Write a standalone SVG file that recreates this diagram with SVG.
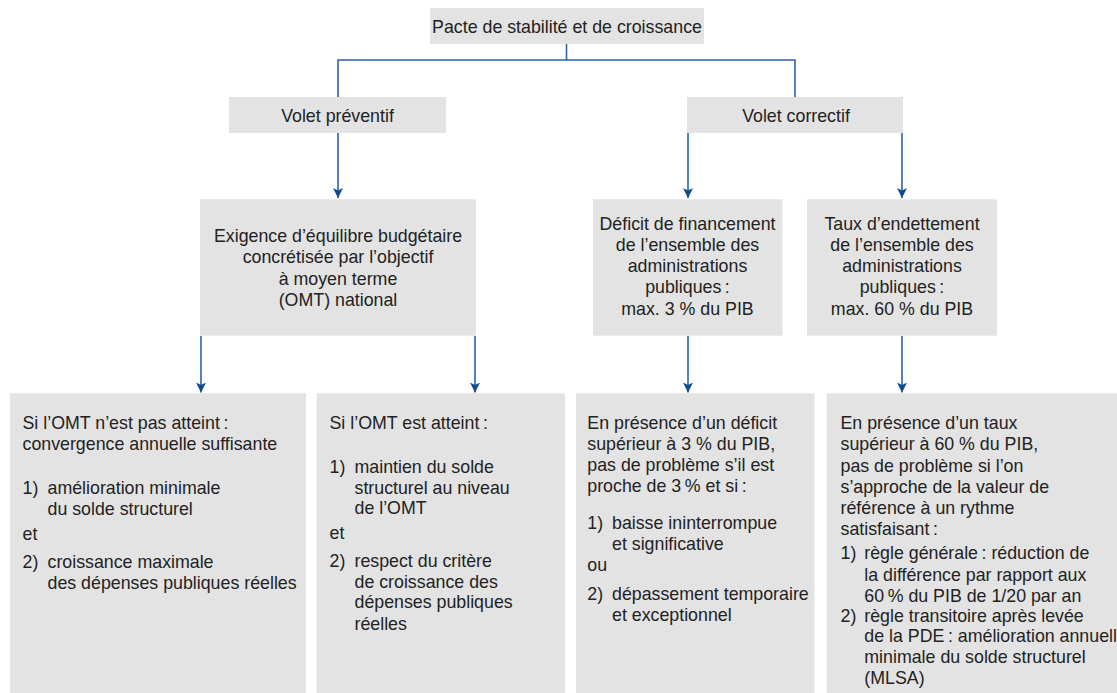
<svg xmlns="http://www.w3.org/2000/svg" width="1117" height="693" viewBox="0 0 1117 693">
<style>
.box{fill:#e3e3e3}
.t{font-family:"Liberation Sans",Arial,sans-serif;font-size:17.8px;fill:#222}
.c{text-anchor:middle}
.conn{stroke:#2c63a5;stroke-width:1.6;fill:none}
.arr{stroke:#2c63a5;stroke-width:1.6;fill:none;marker-end:url(#ah)}
</style>
<defs>
<marker id="ah" viewBox="0 0 10 10" refX="10" refY="5" markerWidth="10" markerHeight="10" markerUnits="userSpaceOnUse" orient="auto">
<path d="M0,0 L10,5 L0,10 L2.5,5 z" fill="#0d4a8f"/>
</marker>
</defs>
<rect width="1117" height="693" fill="#ffffff"/>

<g id="connectors">
<path class="conn" d="M566.5,44 V60 M338,97 V60 H795 V97"/>
<line class="arr" x1="338" y1="133" x2="338" y2="198"/>
<line class="arr" x1="688" y1="133" x2="688" y2="198"/>
<line class="arr" x1="902" y1="133" x2="902" y2="198"/>
<line class="arr" x1="201" y1="336" x2="201" y2="392.5"/>
<line class="arr" x1="475" y1="336" x2="475" y2="392.5"/>
<line class="arr" x1="688" y1="336" x2="688" y2="392.5"/>
<line class="arr" x1="902" y1="336" x2="902" y2="392.5"/>
</g>

<g id="pacte">
<rect class="box" x="430" y="8" width="274" height="36"/>
<text class="t c" x="567" y="32.5">Pacte de stabilité et de croissance</text>
</g>

<g id="volet-preventif">
<rect class="box" x="229" y="97" width="217" height="36"/>
<text class="t c" x="337.5" y="121.5">Volet préventif</text>
</g>

<g id="volet-correctif">
<rect class="box" x="687" y="97" width="216" height="36"/>
<text class="t c" x="796" y="121.5">Volet correctif</text>
</g>

<g id="exigence">
<rect class="box" x="200" y="199.3" width="276" height="136.4"/>
<text class="t c" x="338" y="242">Exigence d’équilibre budgétaire</text>
<text class="t c" x="338" y="263">concrétisée par l’objectif</text>
<text class="t c" x="338" y="284.5">à moyen terme</text>
<text class="t c" x="338" y="305.5">(OMT) national</text>
</g>

<g id="deficit">
<rect class="box" x="593" y="199.3" width="189.5" height="136.4"/>
<text class="t c" x="687.5" y="230">Déficit de financement</text>
<text class="t c" x="687.5" y="251.3">de l’ensemble des</text>
<text class="t c" x="687.5" y="272.3">administrations</text>
<text class="t c" x="687.5" y="293.3">publiques&#8201;:</text>
<text class="t c" x="687.5" y="314.7">max. 3 % du PIB</text>
</g>

<g id="taux">
<rect class="box" x="807" y="199.3" width="190" height="136.4"/>
<text class="t c" x="902" y="230">Taux d’endettement</text>
<text class="t c" x="902" y="251.3">de l’ensemble des</text>
<text class="t c" x="902" y="272.3">administrations</text>
<text class="t c" x="902" y="293.3">publiques&#8201;:</text>
<text class="t c" x="902" y="314.7">max. 60 % du PIB</text>
</g>

<g id="omt-non-atteint">
<rect class="box" x="10" y="393.3" width="296" height="300"/>
<text class="t" x="22.5" y="429.3">Si l’OMT n’est pas atteint&#8201;:</text>
<text class="t" x="22.5" y="450">convergence annuelle suffisante</text>
<text class="t" x="22.5" y="494.3">1)</text>
<text class="t" x="47.5" y="494.3">amélioration minimale</text>
<text class="t" x="47.5" y="515">du solde structurel</text>
<text class="t" x="22.5" y="540">et</text>
<text class="t" x="22.5" y="568.3">2)</text>
<text class="t" x="47.5" y="568.3">croissance maximale</text>
<text class="t" x="47.5" y="589.3">des dépenses publiques réelles</text>
</g>

<g id="omt-atteint">
<rect class="box" x="316.5" y="393.3" width="248.5" height="300"/>
<text class="t" x="329.5" y="429.3">Si l’OMT est atteint&#8201;:</text>
<text class="t" x="329.5" y="472.7">1)</text>
<text class="t" x="354.5" y="472.7">maintien du solde</text>
<text class="t" x="354.5" y="493.5">structurel au niveau</text>
<text class="t" x="354.5" y="514.3">de l’OMT</text>
<text class="t" x="329.5" y="539.3">et</text>
<text class="t" x="329.5" y="566.7">2)</text>
<text class="t" x="354.5" y="566.7">respect du critère</text>
<text class="t" x="354.5" y="587.7">de croissance des</text>
<text class="t" x="354.5" y="608.3">dépenses publiques</text>
<text class="t" x="354.5" y="630">réelles</text>
</g>

<g id="deficit-excessif">
<rect class="box" x="576" y="393.3" width="238.5" height="300"/>
<text class="t" x="587.3" y="429.3">En présence d’un déficit</text>
<text class="t" x="587.3" y="450">supérieur à 3 % du PIB,</text>
<text class="t" x="587.3" y="471">pas de problème s’il est</text>
<text class="t" x="587.3" y="491.7">proche de 3&#8201;% et si&#8201;:</text>
<text class="t" x="587.3" y="529.3">1)</text>
<text class="t" x="612" y="529.3">baisse ininterrompue</text>
<text class="t" x="612" y="550">et significative</text>
<text class="t" x="587.3" y="571">ou</text>
<text class="t" x="587.3" y="600">2)</text>
<text class="t" x="612" y="600">dépassement temporaire</text>
<text class="t" x="612" y="620.7">et exceptionnel</text>
</g>

<g id="taux-excessif">
<rect class="box" x="826.7" y="393.3" width="300" height="300"/>
<text class="t" x="840.5" y="429.3">En présence d’un taux</text>
<text class="t" x="840.5" y="450">supérieur à 60 % du PIB,</text>
<text class="t" x="840.5" y="471.5">pas de problème si l’on</text>
<text class="t" x="840.5" y="492.5">s’approche de la valeur de</text>
<text class="t" x="840.5" y="513.5">référence à un rythme</text>
<text class="t" x="840.5" y="534.5">satisfaisant&#8201;:</text>
<text class="t" x="840.5" y="559">1)</text>
<text class="t" x="864.3" y="559">règle générale&#8201;: réduction de</text>
<text class="t" x="864.3" y="581">la différence par rapport aux</text>
<text class="t" x="864.3" y="601.7">60&#8201;% du PIB de 1/20 par an</text>
<text class="t" x="840.5" y="621.7">2)</text>
<text class="t" x="864.3" y="621.7">règle transitoire après levée</text>
<text class="t" x="864.3" y="642">de la PDE&#8201;: amélioration annuelle</text>
<text class="t" x="864.3" y="663">minimale du solde structurel</text>
<text class="t" x="864.3" y="684">(MLSA)</text>
</g>
</svg>
